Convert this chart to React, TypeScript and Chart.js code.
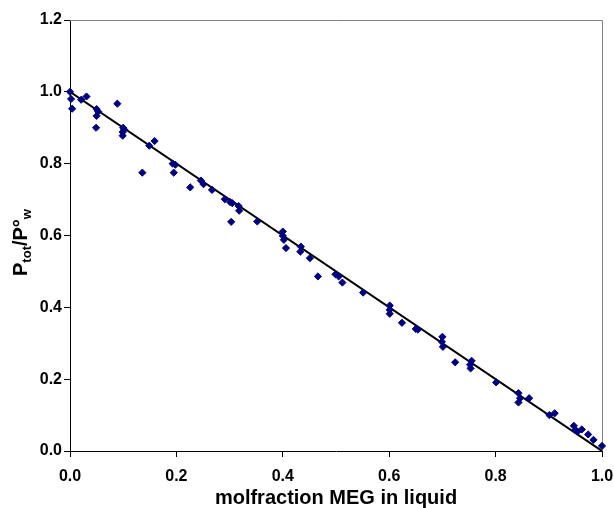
import React, { useEffect, useRef } from "react";
import { Chart, registerables } from "chart.js";

Chart.register(...registerables);

const xTickValues = [0, 0.2, 0.4, 0.6, 0.8, 1.0];
const yTickValues = [0, 0.2, 0.4, 0.6, 0.8, 1.0, 1.2];

const molX = [
  0, 0.002, 0.004, 0.021, 0.031, 0.05, 0.053, 0.05, 0.049, 0.089,
  0.1, 0.102, 0.099, 0.099, 0.149, 0.159, 0.136, 0.193, 0.198, 0.195,
  0.226, 0.246, 0.251, 0.267, 0.291, 0.301, 0.305, 0.317, 0.318, 0.303,
  0.352, 0.4, 0.4, 0.402, 0.406, 0.434, 0.433, 0.451, 0.466, 0.499,
  0.505, 0.512, 0.551, 0.601, 0.601, 0.601, 0.624, 0.65, 0.654, 0.7,
  0.699, 0.701, 0.724, 0.755, 0.752, 0.753, 0.801, 0.843, 0.846, 0.843,
  0.863, 0.901, 0.911, 0.947, 0.95, 0.954, 0.962, 0.974, 0.984, 1.0,
];
const pRatio = [
  1.0, 0.98, 0.953, 0.978, 0.987, 0.952, 0.945, 0.933, 0.9, 0.967,
  0.9, 0.895, 0.888, 0.878, 0.85, 0.863, 0.775, 0.8, 0.797, 0.775,
  0.734, 0.753, 0.743, 0.727, 0.701, 0.693, 0.69, 0.682, 0.669, 0.638,
  0.639, 0.611, 0.599, 0.588, 0.565, 0.569, 0.555, 0.537, 0.486, 0.492,
  0.486, 0.469, 0.441, 0.405, 0.393, 0.382, 0.357, 0.34, 0.338, 0.318,
  0.304, 0.29, 0.247, 0.251, 0.24, 0.23, 0.191, 0.161, 0.147, 0.135,
  0.147, 0.1, 0.105, 0.07, 0.058, 0.054, 0.06, 0.046, 0.031, 0.014,
];

const fitX = [0, 1];
const fitY = [1, 0];

const FONT = "'Liberation Sans', Arial, sans-serif";

const decorPlugin = {
  id: "decor",
  beforeDatasetsDraw(chart: any) {
    const { ctx, chartArea } = chart;
    ctx.save();
    ctx.strokeStyle = "#808080";
    ctx.lineWidth = 1;
    ctx.beginPath();
    ctx.moveTo(chartArea.left, chartArea.top + 0.5);
    ctx.lineTo(chartArea.right + 0.5, chartArea.top + 0.5);
    ctx.lineTo(chartArea.right + 0.5, chartArea.bottom);
    ctx.stroke();
    ctx.restore();
  },
  afterDraw(chart: any) {
    const { ctx, chartArea } = chart;
    ctx.save();
    ctx.fillStyle = "#000";
    ctx.font = `bold 20px ${FONT}`;
    ctx.textAlign = "center";
    ctx.textBaseline = "middle";
    ctx.fillText("molfraction MEG in liquid", (chartArea.left + chartArea.right) / 2, 498);
    const parts: [string, boolean][] = [
      ["P", false],
      ["tot", true],
      ["/P°", false],
      ["w", true],
    ];
    const big = `bold 20px ${FONT}`;
    const small = `bold 13px ${FONT}`;
    let total = 0;
    const widths = parts.map(([t, sub]) => {
      ctx.font = sub ? small : big;
      const w = ctx.measureText(t).width;
      total += w;
      return w;
    });
    ctx.translate(27, (chartArea.top + chartArea.bottom) / 2 + 7);
    ctx.rotate(-Math.PI / 2);
    ctx.textAlign = "left";
    ctx.textBaseline = "alphabetic";
    let x = -total / 2;
    parts.forEach(([t, sub], i) => {
      ctx.font = sub ? small : big;
      ctx.fillText(t, x, sub ? 4 : 0);
      x += widths[i];
    });
    ctx.restore();
  },
};

export default function App() {
  const ref = useRef<HTMLCanvasElement>(null);
  useEffect(() => {
    document.body.style.margin = "0";
    const canvas = ref.current!;
    const chart = new Chart(canvas, {
      type: "scatter",
      data: {
        datasets: [
          {
            type: "line",
            data: fitX.map((x, i) => ({ x, y: fitY[i] })),
            borderColor: "#000",
            borderWidth: 2,
            pointRadius: 0,
            fill: false,
            order: 2,
          } as any,
          {
            data: molX.map((x, i) => ({ x, y: pRatio[i] })),
            pointStyle: "rectRot",
            pointRadius: 3.6,
            pointBackgroundColor: "#000080",
            pointBorderColor: "#000080",
            pointBorderWidth: 1,
            clip: false,
            order: 1,
          } as any,
        ],
      },
      options: {
        animation: false,
        responsive: false,
        maintainAspectRatio: false,
        events: [],
        layout: { padding: { top: 20, right: 12, left: 0, bottom: 0 } },
        plugins: {
          legend: { display: false },
          tooltip: { enabled: false },
          title: { display: false },
        },
        scales: {
          x: {
            type: "linear",
            min: 0,
            max: 1,
            afterBuildTicks: (s: any) => {
              s.ticks = xTickValues.map((v) => ({ value: v }));
            },
            afterFit: (s: any) => {
              s.height = 57;
              s.paddingLeft = 0;
              s.paddingRight = 0;
            },
            ticks: {
              callback: (v: any) => Number(v).toFixed(1),
              font: { family: FONT, size: 16, weight: "bold" },
              color: "#000",
              padding: 10,
              maxRotation: 0,
            },
            grid: {
              drawOnChartArea: false,
              drawTicks: true,
              tickLength: 6,
              color: "#000",
            },
            border: { color: "#000", width: 1 },
          },
          y: {
            type: "linear",
            min: 0,
            max: 1.2,
            afterBuildTicks: (s: any) => {
              s.ticks = yTickValues.map((v) => ({ value: v }));
            },
            afterFit: (s: any) => {
              s.width = 70;
              s.paddingTop = 0;
              s.paddingBottom = 0;
            },
            ticks: {
              callback: (v: any) => Number(v).toFixed(1),
              font: { family: FONT, size: 16, weight: "bold" },
              color: "#000",
              padding: 2,
            },
            grid: {
              drawOnChartArea: false,
              drawTicks: true,
              tickLength: 6,
              color: "#000",
            },
            border: { color: "#000", width: 1 },
          },
        },
      },
      plugins: [decorPlugin],
    } as any);
    return () => chart.destroy();
  }, []);
  return <canvas ref={ref} width={614} height={508} style={{ display: "block" }} />;
}
